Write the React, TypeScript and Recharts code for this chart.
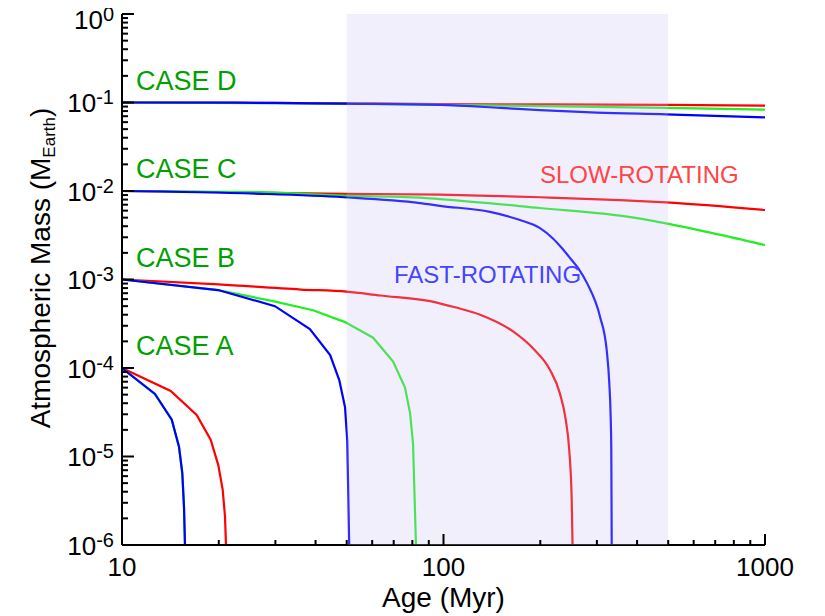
import React from "react";
import { LineChart, Line, XAxis, YAxis, ReferenceArea } from "recharts";

// axis ticks
const xMajor = [10, 100, 1000];
const xMinor = [20, 30, 40, 50, 60, 70, 80, 90, 200, 300, 400, 500, 600, 700, 800, 900];
const yExponents = [-6, -5, -4, -3, -2, -1, 0];
const yMinorFactors = [2, 3, 4, 5, 6, 7, 8, 9];

// shaded age window (Myr)
const shadeFrom = 50;
const shadeTo = 500;

// [age (Myr), atmospheric mass (M_Earth)]
const caseASlow = [[10, 1e-4], [14.17, 5.5e-5], [17.07, 2.95e-5], [18.87, 1.55e-5], [19.93, 8e-6], [20.57, 4.2e-6], [20.91, 2.1e-6], [21.06, 1e-6]];
const caseAMedium = [[10, 1e-4], [12.66, 5.1e-5], [14.28, 2.6e-5], [15.04, 1.29e-5], [15.4, 6.5e-6], [15.59, 2.7e-6], [15.7, 1e-6]];
const caseAFast = [[10, 1e-4], [12.66, 5.1e-5], [14.28, 2.6e-5], [15.04, 1.29e-5], [15.4, 6.5e-6], [15.59, 2.7e-6], [15.7, 1e-6]];

const caseBSlow = [[10, 1e-3], [20, 8.8e-4], [36, 7.7e-4], [50, 7.3e-4], [63.5, 6.6e-4], [90.8, 5.7e-4], [108.6, 4.85e-4], [130, 4.0e-4], [165, 2.57e-4], [190, 1.66e-4], [214.5, 9.5e-5], [230, 5.2e-5], [240, 2.6e-5], [246, 1.2e-5], [250.5, 3.2e-6], [252, 1e-6]];
const caseBMedium = [[10, 1e-3], [19.9, 7.6e-4], [29.5, 5.7e-4], [39.3, 4.5e-4], [49.4, 3.3e-4], [60.4, 2.2e-4], [69.7, 1.18e-4], [75.9, 6e-5], [78.7, 3.1e-5], [80.4, 1.4e-5], [82.1, 1e-6]];
const caseBFast = [[10, 1e-3], [19.9, 7.6e-4], [29.9, 5.0e-4], [38.4, 2.76e-4], [44.4, 1.4e-4], [47.4, 7.3e-5], [49.4, 3.6e-5], [50.2, 1.5e-5], [50.9, 1e-6]];

const caseCSlow = [[10, 0.01], [49, 0.0093], [97.5, 0.0091], [200, 0.0085], [354, 0.0079], [492, 0.00745], [1000, 0.0061]];
const caseCMedium = [[10, 0.01], [26.9, 0.0097], [49, 0.00885], [84.5, 0.0084], [97.5, 0.0081], [199.6, 0.00643], [354, 0.00526], [492, 0.00431], [699, 0.0033], [1000, 0.00245]];
const caseCFast = [[10, 0.01], [26.9, 0.0093], [49, 0.0085], [84.5, 0.0073], [97.5, 0.0068], [139.5, 0.0058], [173, 0.0047], [199.6, 0.0038], [219, 0.0029], [233.7, 0.00225], [247.5, 0.00175], [262, 0.00135], [279.5, 9.1e-4], [306.8, 3.8e-4], [321.8, 1.6e-4], [327.9, 6.7e-5], [331.1, 2.8e-5], [332.6, 1.2e-5], [333.6, 1e-6]];

const caseDSlow = [[10, 0.1], [49, 0.098], [97.5, 0.096], [492, 0.094], [1000, 0.092]];
const caseDMedium = [[10, 0.1], [49, 0.097], [97.5, 0.094], [200, 0.091], [492, 0.087], [1000, 0.083]];
const caseDFast = [[10, 0.1], [30, 0.099], [49, 0.097], [97.5, 0.094], [150, 0.087], [199.6, 0.082], [300, 0.077], [492, 0.0736], [1000, 0.068]];

const caseLabels = ["CASE D", "CASE C", "CASE B", "CASE A"];

const W = 825;
const H = 616;
const FONT = "'Liberation Sans', Arial, Helvetica, sans-serif";
const RED = "#ff0000";
const GREEN = "#22ee22";
const BLUE = "#0000ff";

const yMajor = yExponents.map((e) => Math.pow(10, e));
const yTicks = [
  ...yMajor,
  ...yExponents.slice(0, -1).flatMap((e) => yMinorFactors.map((f) => f * Math.pow(10, e))),
];
const xTicks = [...xMajor, ...xMinor];

const toPoints = (s: number[][]) => s.map(([age, mass]) => ({ age, mass }));

// smooth model curves vs. coarse piecewise ones
const series = [
  { d: caseASlow, c: RED, t: "linear" }, { d: caseBSlow, c: RED, t: "monotone" }, { d: caseCSlow, c: RED, t: "monotone" }, { d: caseDSlow, c: RED, t: "monotone" },
  { d: caseAMedium, c: GREEN, t: "linear" }, { d: caseBMedium, c: GREEN, t: "linear" }, { d: caseCMedium, c: GREEN, t: "monotone" }, { d: caseDMedium, c: GREEN, t: "monotone" },
  { d: caseAFast, c: BLUE, t: "linear" }, { d: caseBFast, c: BLUE, t: "linear" }, { d: caseCFast, c: BLUE, t: "monotone" }, { d: caseDFast, c: BLUE, t: "monotone" },
];

const BottomTick = ({ x, y, payload }: any) => {
  const major = xMajor.includes(payload.value);
  return (
    <g>
      <line x1={x} x2={x} y1={y} y2={y - (major ? 11 : 5)} stroke="#000" strokeWidth={2} />
      {major && (
        <text x={x} y={y + 31} textAnchor="middle" fontSize={26} fontFamily={FONT} fill="#000">
          {payload.value}
        </text>
      )}
    </g>
  );
};

const TopTick = ({ x, y, payload }: any) => {
  const major = xMajor.includes(payload.value);
  return <line x1={x} x2={x} y1={y} y2={y + (major ? 11 : 5)} stroke="#000" strokeWidth={2} />;
};

const LeftTick = ({ x, y, payload }: any) => {
  const major = yMajor.includes(payload.value);
  const e = Math.round(Math.log10(payload.value));
  // top label sits a little lower so it stays inside the picture
  const shift = e === 0 ? 5 : 0;
  return (
    <g>
      <line x1={x} x2={x + (major ? 12 : 6)} y1={y} y2={y} stroke="#000" strokeWidth={2} />
      {major && (
        <text x={x - 8} y={y + 9.5 + shift} textAnchor="end" fontSize={26} fontFamily={FONT} fill="#000">
          10<tspan fontSize={20} dy={-8}>{String(e)}</tspan>
        </text>
      )}
    </g>
  );
};

const RightTick = ({ x, y, payload }: any) => {
  const major = yMajor.includes(payload.value);
  return <line x1={x} x2={x - (major ? 12 : 6)} y1={y} y2={y} stroke="#000" strokeWidth={2} />;
};

const axisLine = { stroke: "#000", strokeWidth: 2 };

export default function App() {
  return (
    <div style={{ position: "relative", width: W, height: H, margin: "-8px 0 0 -8px" }}>
      <LineChart width={W} height={H} margin={{ top: 14, right: 60, bottom: 0, left: 0 }}>
        <XAxis
          xAxisId={0}
          dataKey="age"
          type="number"
          scale="log"
          domain={[10, 1000]}
          allowDataOverflow
          ticks={xTicks}
          interval={0}
          tick={<BottomTick />}
          tickLine={false}
          tickSize={0}
          tickMargin={0}
          axisLine={axisLine}
          height={71}
        />
        <XAxis
          xAxisId="top"
          orientation="top"
          dataKey="age"
          type="number"
          scale="log"
          domain={[10, 1000]}
          allowDataOverflow
          ticks={xTicks}
          interval={0}
          tick={<TopTick />}
          tickLine={false}
          tickSize={0}
          tickMargin={0}
          axisLine={axisLine}
          height={0}
        />
        <YAxis
          yAxisId={0}
          type="number"
          scale="log"
          domain={[1e-6, 1]}
          allowDataOverflow
          ticks={yTicks}
          interval={0}
          tick={<LeftTick />}
          tickLine={false}
          tickSize={0}
          tickMargin={0}
          axisLine={axisLine}
          width={122}
        />
        <YAxis
          yAxisId="right"
          orientation="right"
          type="number"
          scale="log"
          domain={[1e-6, 1]}
          allowDataOverflow
          ticks={yTicks}
          interval={0}
          tick={<RightTick />}
          tickLine={false}
          tickSize={0}
          tickMargin={0}
          axisLine={axisLine}
          width={0}
        />
        {series.map((s, i) => (
          <Line
            key={i}
            data={toPoints(s.d)}
            dataKey="mass"
            type={s.t as any}
            stroke={s.c}
            strokeWidth={2.2}
            dot={false}
            activeDot={false}
            isAnimationActive={false}
          />
        ))}
        <ReferenceArea
          x1={shadeFrom}
          x2={shadeTo}
          y1={1e-6}
          y2={1}
          fill="#cbbff7"
          fillOpacity={0.25}
          stroke="none"
          ifOverflow="hidden"
          {...({ zIndex: 1600 } as any)}
        />
      </LineChart>
      <svg
        width={W}
        height={H}
        style={{ position: "absolute", left: 0, top: 0, overflow: "visible", pointerEvents: "none" }}
        fontFamily={FONT}
      >
        {caseLabels.map((t, i) => (
          <text key={t} x={136} y={90 + i * 88.4} fontSize={27} fill="#00a000">
            {t}
          </text>
        ))}
        <text x={540} y={183} fontSize={24} fill="#ff4545">SLOW-ROTATING</text>
        <text x={394} y={283} fontSize={24} fill="#4545ff">FAST-ROTATING</text>
        <text x={443.5} y={607} fontSize={28} textAnchor="middle" fill="#000">Age (Myr)</text>
        <text transform="rotate(-90)" x={-268} y={50} fontSize={28} textAnchor="middle" fill="#000">
          Atmospheric Mass (M<tspan fontSize={17} dy={5}>Earth</tspan>
          <tspan dy={-5}>)</tspan>
        </text>
      </svg>
    </div>
  );
}
